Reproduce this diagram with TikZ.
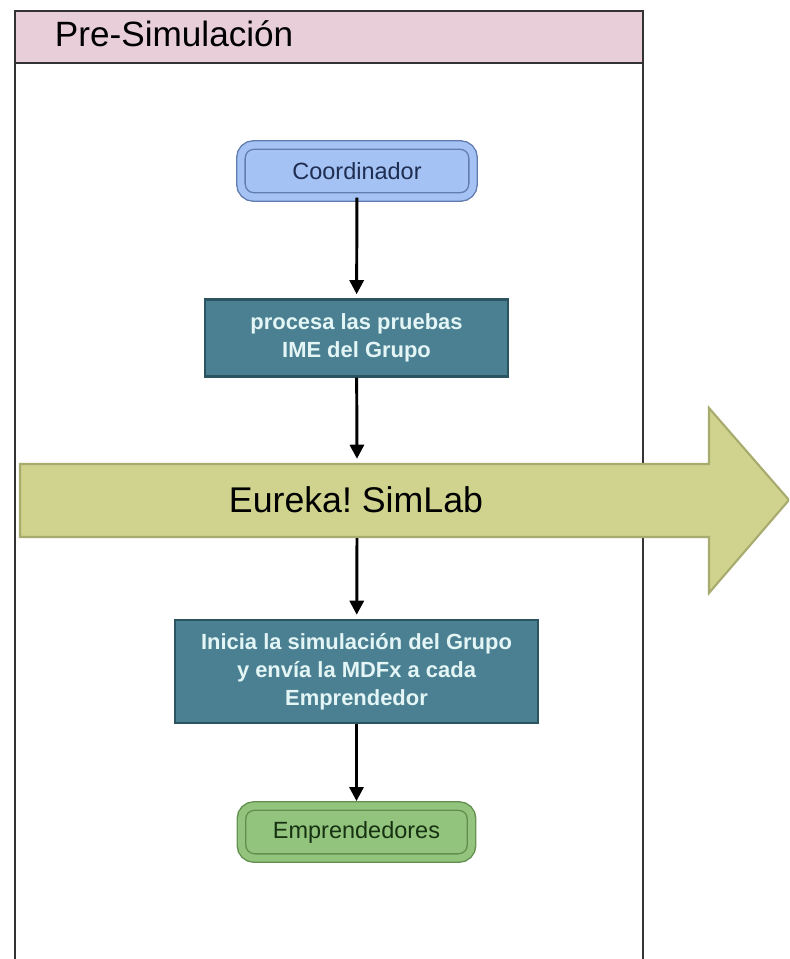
\documentclass[tikz,border=0pt]{standalone}
\usepackage{fontspec}
\setmainfont{Liberation Sans}
\usetikzlibrary{arrows.meta,positioning}

\definecolor{rosado}{RGB}{232,206,216}
\definecolor{marco}{RGB}{51,51,51}
\definecolor{oliva}{RGB}{207,211,142}
\definecolor{olivaborde}{RGB}{168,171,110}
\definecolor{azulfondo}{RGB}{164,194,244}
\definecolor{azulborde}{RGB}{98,124,176}
\definecolor{azultexto}{RGB}{30,45,80}
\definecolor{verdefondo}{RGB}{147,196,125}
\definecolor{verdeborde}{RGB}{98,142,78}
\definecolor{verdetexto}{RGB}{22,50,18}
\definecolor{tealfondo}{RGB}{74,128,145}
\definecolor{tealborde}{RGB}{44,84,96}
\definecolor{tealtexto}{RGB}{228,245,246}

\tikzset{
  flecha/.style={black, line width=2.1pt, -{Triangle[length=10pt,width=10pt]}, shorten >=3pt},
  actor/.style 2 args={draw=#1, fill=#2, double=#2, double distance=5pt, line width=1pt,
    rounded corners=9pt, minimum height=1.3cm, font=\fontsize{16.7}{20}\selectfont},
  proceso/.style={draw=tealborde, fill=tealfondo, line width=1.5pt, text=tealtexto,
    align=center, font=\bfseries\fontsize{15.6}{20}\selectfont}
}

\begin{document}
\frenchspacing
\begin{tikzpicture}[x=0.025cm, y=-0.025cm]
     \useasboundingbox (0,0) rectangle (789,959);
     \clip (0,0) rectangle (789,959);
     % swimlane
     \fill[rosado] (15,11) rectangle (643,63);
     \draw[marco, line width=2.1pt] (15,970) -- (15,11) -- (643,11) -- (643,970);
     \draw[marco, line width=2.1pt] (15,63) -- (643,63);
     \node[anchor=base west, font=\fontsize{25}{30}\selectfont] (titulo) at (50,47) {Pre-Simulación};
     % flecha grande
     \draw[draw=olivaborde, fill=oliva, line width=1.5pt] (20,464) -- (709,464) -- (709,408) -- (789,500) -- (709,593) -- (709,537) -- (20,537) -- cycle;
     \node[font=\fontsize{25.4}{30}\selectfont] (eureka) at (356,500) {Eureka! SimLab};
     \coordinate (bandaArriba) at (357,463);
     \coordinate (bandaAbajo) at (357,538);
     % nodos
     \node[actor={azulborde}{azulfondo}, text=azultexto, minimum width=5.8cm] (coordinador) at (357,171) {Coordinador};
     \node[proceso, minimum width=7.575cm, minimum height=1.925cm] (procesa) at (356.5,338) {procesa las pruebas\\IME del Grupo};
     \node[proceso, minimum width=9.075cm, minimum height=2.575cm] (inicia) at (356.5,671.5) {Inicia la simulación del Grupo\\y envía la MDFx a cada\\Emprendedor};
     \node[actor={verdeborde}{verdefondo}, text=verdetexto, minimum width=5.75cm] (emprendedores) at (356.5,832) {Emprendedores};
     % conectores
     \draw[flecha] (coordinador) -- (procesa);
     \draw[flecha] (procesa) -- (bandaArriba);
     \draw[flecha] (bandaAbajo) -- (inicia);
     \draw[flecha] (inicia) -- (emprendedores);
\end{tikzpicture}
\end{document}
